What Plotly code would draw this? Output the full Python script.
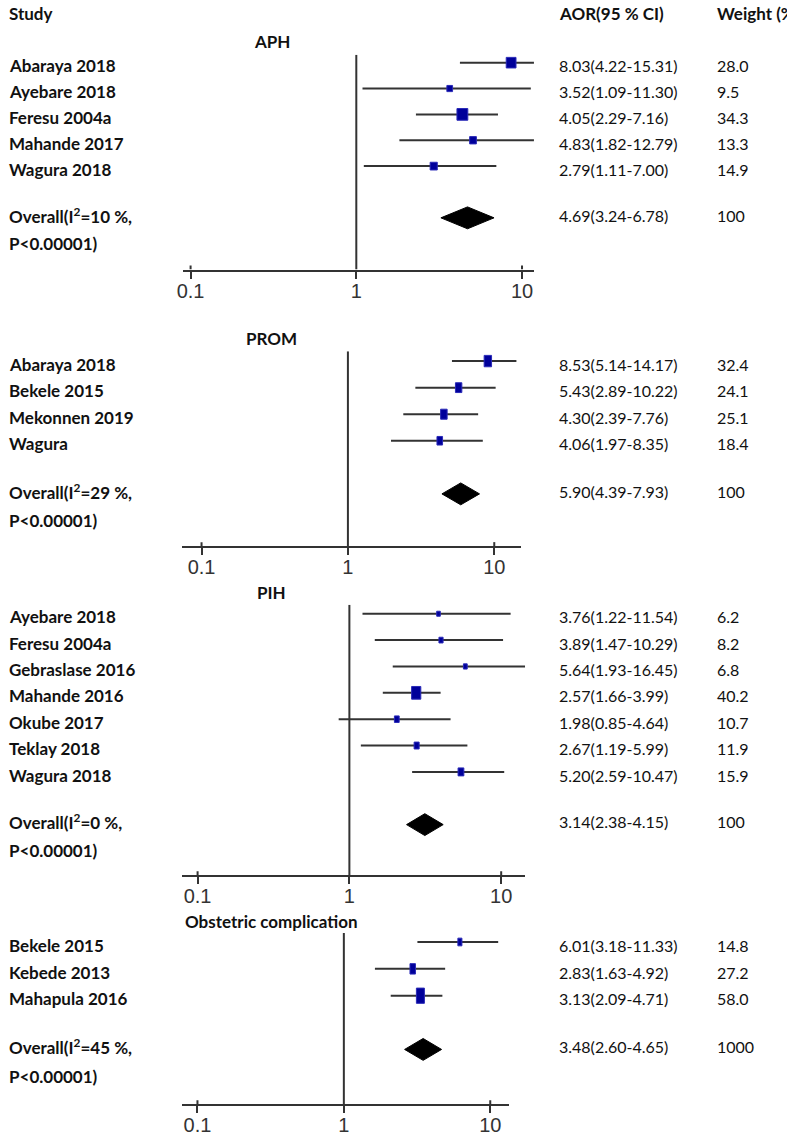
import math
import plotly.graph_objects as go

W, H = 787, 1136

# ---------------- data ----------------
aph_studies = ["Abaraya 2018", "Ayebare 2018", "Feresu 2004a", "Mahande 2017", "Wagura 2018"]
aph_aor = [8.03, 3.52, 4.05, 4.83, 2.79]
aph_lo = [4.22, 1.09, 2.29, 1.82, 1.11]
aph_hi = [15.31, 11.30, 7.16, 12.79, 7.00]
aph_weight = [28.0, 9.5, 34.3, 13.3, 14.9]
aph_overall = [4.69, 3.24, 6.78]
aph_i2 = 10
aph_total = "100"

prom_studies = ["Abaraya 2018", "Bekele 2015", "Mekonnen 2019", "Wagura"]
prom_aor = [8.53, 5.43, 4.30, 4.06]
prom_lo = [5.14, 2.89, 2.39, 1.97]
prom_hi = [14.17, 10.22, 7.76, 8.35]
prom_weight = [32.4, 24.1, 25.1, 18.4]
prom_overall = [5.90, 4.39, 7.93]
prom_i2 = 29
prom_total = "100"

pih_studies = ["Ayebare 2018", "Feresu 2004a", "Gebraslase 2016", "Mahande 2016",
               "Okube 2017", "Teklay 2018", "Wagura 2018"]
pih_aor = [3.76, 3.89, 5.64, 2.57, 1.98, 2.67, 5.20]
pih_lo = [1.22, 1.47, 1.93, 1.66, 0.85, 1.19, 2.59]
pih_hi = [11.54, 10.29, 16.45, 3.99, 4.64, 5.99, 10.47]
pih_weight = [6.2, 8.2, 6.8, 40.2, 10.7, 11.9, 15.9]
pih_overall = [3.14, 2.38, 4.15]
pih_i2 = 0
pih_total = "100"

obs_studies = ["Bekele 2015", "Kebede 2013", "Mahapula 2016"]
obs_aor = [6.01, 2.83, 3.13]
obs_lo = [3.18, 1.63, 2.09]
obs_hi = [11.33, 4.92, 4.71]
obs_weight = [14.8, 27.2, 58.0]
obs_overall = [3.48, 2.60, 4.65]
obs_i2 = 45
obs_total = "1000"

p_value_text = "P<0.00001)"
tick_vals = [0.1, 1, 10]
tick_text = ["0.1", "1", "10"]

# ---------------- layout geometry (pixels) ----------------
panels = [
    dict(title="APH", studies=aph_studies, aor=aph_aor, lo=aph_lo, hi=aph_hi, w=aph_weight,
         ov=aph_overall, i2=aph_i2, total=aph_total,
         geo=dict(x0=178, x1=532, xr=(-1.048, 1.072), ytop=55, ybot=271, row0=63, step=26,
                  ty=42, aspect=1.85)),
    dict(title="PROM", studies=prom_studies, aor=prom_aor, lo=prom_lo, hi=prom_hi, w=prom_weight,
         ov=prom_overall, i2=prom_i2, total=prom_total,
         geo=dict(x0=177, x1=519, xr=(-1.136, 1.183), ytop=353, ybot=549, row0=363, step=26.7,
                  ty=340, aspect=1.3)),
    dict(title="PIH", studies=pih_studies, aor=pih_aor, lo=pih_lo, hi=pih_hi, w=pih_weight,
         ov=pih_overall, i2=pih_i2, total=pih_total,
         geo=dict(x0=177, x1=523, xr=(-1.105, 1.157), ytop=608, ybot=880, row0=617, step=26.5,
                  ty=596, aspect=1.45)),
    dict(title="Obstetric complication", studies=obs_studies, aor=obs_aor, lo=obs_lo, hi=obs_hi,
         w=obs_weight, ov=obs_overall, i2=obs_i2, total=obs_total,
         geo=dict(x0=177, x1=507, xr=(-1.108, 1.129), ytop=938, ybot=1110, row0=947, step=27,
                  ty=926, aspect=1.05)),
]

LINE = "#333333"
BOX = "#00009a"
BOX_EDGE = "#2a2ab8"
TXT = "#111111"
FONT = "Lato"

fig = go.Figure()
shapes = []
annotations = []

X_AOR, X_W = 555, 714


def py(p):
    return 1 - p / H


for k, p in enumerate(panels, start=1):
    g = p["geo"]
    xa = "x" if k == 1 else f"x{k}"
    ya = "y" if k == 1 else f"y{k}"
    ytop = (g["ytop"] - g["row0"]) / g["step"]
    ybot = (g["ybot"] - g["row0"]) / g["step"]
    n = len(p["studies"])
    rows = list(range(n))
    orow = n + 1

    fig.update_layout(**{
        ("xaxis" if k == 1 else f"xaxis{k}"): dict(
            type="log", range=list(g["xr"]), domain=[g["x0"] / W, g["x1"] / W], anchor=ya,
            showline=True, linecolor=LINE, linewidth=2, ticks="outside", ticklen=7,
            tickwidth=2, tickcolor=LINE, tickvals=tick_vals, ticktext=tick_text,
            ticklabelstandoff=-5,
            tickfont=dict(family="Liberation Sans", size=20, color="#333333"),
            showgrid=False, zeroline=False, fixedrange=True),
        ("yaxis" if k == 1 else f"yaxis{k}"): dict(
            range=[ybot, ytop], domain=[py(g["ybot"]), py(g["ytop"])], anchor=xa,
            visible=False, fixedrange=True),
    })

    # line of no effect
    fig.add_trace(go.Scatter(x=[1, 1], y=[ytop, ybot], mode="lines",
                             line=dict(color=LINE, width=2), xaxis=xa, yaxis=ya,
                             hoverinfo="skip"))
    # inner half of tick marks
    inner = 4 / g["step"]
    fig.add_trace(go.Scatter(x=[0.1, 0.1, None, 10, 10],
                             y=[ybot, ybot - inner, None, ybot, ybot - inner], mode="lines",
                             line=dict(color=LINE, width=2), xaxis=xa, yaxis=ya,
                             hoverinfo="skip", cliponaxis=False))
    # confidence intervals
    for r, lo, hi in zip(rows, p["lo"], p["hi"]):
        fig.add_trace(go.Scatter(x=[lo, hi], y=[r, r], mode="lines",
                                 line=dict(color=LINE, width=2), xaxis=xa, yaxis=ya,
                                 hoverinfo="skip"))
    # weight boxes
    for r, est, wt in zip(rows, p["aor"], p["w"]):
        h = 2.0 * math.sqrt(wt)
        wd = h * g["aspect"]
        shapes.append(dict(type="rect", xref=xa, yref=ya, xsizemode="pixel", ysizemode="pixel",
                           xanchor=est, yanchor=r, x0=-wd / 2, x1=wd / 2, y0=-h / 2, y1=h / 2,
                           fillcolor=BOX, line=dict(color=BOX_EDGE, width=1), layer="above"))
    # pooled diamond
    est, lo, hi = p["ov"]
    dh = 11 / g["step"]
    fig.add_trace(go.Scatter(x=[lo, est, hi, est, lo], y=[orow, orow - dh, orow, orow + dh, orow],
                             mode="lines", fill="toself", fillcolor="black",
                             line=dict(color="black", width=1), xaxis=xa, yaxis=ya,
                             hoverinfo="skip"))

    # texts
    annotations.append(dict(text=f"<b>{p['title']}</b>", x=268 / W, y=py(g["ty"]),
                            xref="paper", yref="paper", xanchor="center", yanchor="middle",
                            showarrow=False, font=dict(family=FONT, size=17, color=TXT)))
    toff = 0.12
    for r, name, e, l, u, wt in zip(rows, p["studies"], p["aor"], p["lo"], p["hi"], p["w"]):
        annotations.append(dict(text=f"<b>{name}</b>", x=1 / W, y=r + toff, xref="paper", yref=ya,
                                xanchor="left", yanchor="middle", showarrow=False,
                                font=dict(family=FONT, size=17, color=TXT)))
        annotations.append(dict(text=f"{e:.2f}({l:.2f}-{u:.2f})", x=X_AOR / W, y=r + toff,
                                xref="paper", yref=ya, xanchor="left", yanchor="middle",
                                showarrow=False, font=dict(family=FONT, size=16, color=TXT)))
        annotations.append(dict(text=f"{wt:.1f}", x=X_W / W, y=r + toff,
                                xref="paper", yref=ya, xanchor="left", yanchor="middle",
                                showarrow=False, font=dict(family=FONT, size=16, color=TXT)))
    annotations.append(dict(text=f"<b>Overall(I<sup>2</sup>={p['i2']} %,</b>", x=1 / W,
                            y=orow - 0.1, xref="paper", yref=ya, xanchor="left",
                            yanchor="middle", showarrow=False,
                            font=dict(family=FONT, size=17, color=TXT)))
    annotations.append(dict(text=f"<b>{p_value_text}</b>", x=1 / W, y=orow + 1.0,
                            xref="paper", yref=ya, xanchor="left", yanchor="middle",
                            showarrow=False, font=dict(family=FONT, size=17, color=TXT)))
    annotations.append(dict(text=f"{est:.2f}({lo:.2f}-{hi:.2f})", x=X_AOR / W, y=orow - 0.1,
                            xref="paper", yref=ya, xanchor="left", yanchor="middle",
                            showarrow=False, font=dict(family=FONT, size=16, color=TXT)))
    annotations.append(dict(text=p["total"], x=X_W / W, y=orow - 0.1,
                            xref="paper", yref=ya, xanchor="left", yanchor="middle",
                            showarrow=False, font=dict(family=FONT, size=16, color=TXT)))

# column headers
for txt, xp in [("Study", 1), ("AOR(95 % CI)", X_AOR), ("Weight (%)", X_W)]:
    annotations.append(dict(text=f"<b>{txt}</b>", x=xp / W, y=py(14), xref="paper",
                            yref="paper", xanchor="left", yanchor="middle", showarrow=False,
                            font=dict(family=FONT, size=17, color=TXT)))

fig.update_layout(width=W, height=H, margin=dict(l=0, r=0, t=0, b=0),
                  paper_bgcolor="white", plot_bgcolor="white", showlegend=False,
                  shapes=shapes, annotations=annotations)

fig.write_html("out.html", config={"displayModeBar": False},
               post_script="document.body.style.margin='0px';document.body.style.overflow='hidden';")
